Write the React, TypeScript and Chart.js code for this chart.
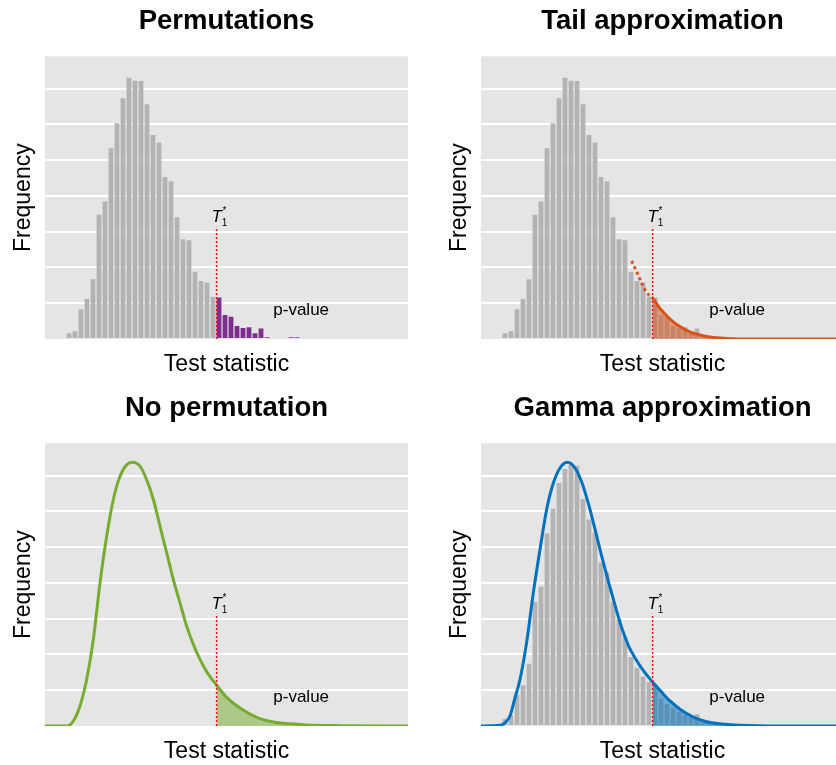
import React, { useEffect, useRef } from "react";
import { Chart, registerables } from "chart.js";

Chart.register(...registerables);

// ---------- data (arbitrary test-statistic units, frequency units) ----------
const binCenters = [
  1, 2, 3, 4, 5, 6, 7, 8, 9, 10, 11, 12, 13, 14, 15, 16, 17, 18, 19, 20,
  21, 22, 23, 24, 25, 26, 27, 28, 29, 30, 31, 32, 33, 34, 35, 36, 37, 38, 39, 40,
  41, 42, 43, 44, 45, 46, 47, 48, 49, 50,
];
// permutation histogram (top panels)
const permCounts = [
  0.03, 0.16, 0.22, 0.83, 1.12, 1.67, 3.47, 3.84, 5.33, 6.03,
  6.73, 7.3, 7.22, 7.21, 6.56, 5.7, 5.49, 4.53, 4.4, 3.4,
  2.79, 2.76, 1.88, 1.62, 1.58, 1.18, 1.16, 0.67, 0.62, 0.36,
  0.31, 0.33, 0.16, 0.29, 0.05, 0.03, 0.03, 0.03, 0.05, 0.05,
  0.03, 0.03, 0, 0, 0.03, 0.03, 0, 0, 0, 0.03,
];
// histogram under the gamma fit (bottom right)
const gammaHistCounts = [
  0.03, 0.2, 0.3, 0.87, 1.14, 1.74, 3.47, 3.9, 5.38, 6.07,
  6.79, 7.18, 7.3, 7.27, 6.34, 5.77, 5.41, 4.57, 4.28, 3.47,
  2.98, 2.49, 1.93, 1.63, 1.38, 1.23, 1.12, 0.76, 0.62, 0.5,
  0.4, 0.3, 0.25, 0.33, 0.1, 0.08, 0.06, 0.05, 0.04, 0.03,
  0.02, 0.02, 0, 0, 0, 0, 0, 0, 0, 0,
];

const threshold = 26.6; // T1*
const thresholdTop = 3.14;
const pLabelX = 36.05;
const pLabelY = 0.67;

// tail approximation (dotted part left of T1*, solid part right of it)
const tailDotX = [23.1, 23.95, 24.8, 25.6, 26.6];
const tailDotY = [2.18, 1.88, 1.55, 1.3, 1.15];
const tailX = [26.6, 27.8, 28.95, 30.05, 31.2, 32.8, 34.5, 36.7, 39.5, 45, 58.5];
const tailY = [1.15, 0.86, 0.65, 0.48, 0.34, 0.2, 0.11, 0.04, 0.01, 0, 0];

// no permutation: theoretical density
const densX = [
  -2, 1.61, 2.72, 3.83, 4.94, 6.06, 7.17, 8.28, 9.39, 10.5, 11.61, 12.61, 13.83,
  14.94, 16.06, 17.17, 18.28, 19.39, 20.5, 21.61, 22.72, 23.83, 24.94, 26.6,
  28.28, 30.5, 33.28, 36.06, 38.83, 41.61, 47.17, 58.5,
];
const densY = [
  0, 0, 0.14, 0.56, 1.3, 2.42, 4.0, 5.3, 6.33, 6.98, 7.3, 7.37, 7.26,
  6.88, 6.33, 5.58, 4.84, 4.09, 3.44, 2.79, 2.28, 1.86, 1.52, 1.14,
  0.8, 0.5, 0.24, 0.11, 0.06, 0.03, 0.01, 0,
];

// gamma approximation
const gammaX = [
  -2, 1.17, 2.0, 2.83, 3.67, 4.5, 5.6, 6.72, 7.83, 8.94, 10.06, 11.17, 12.39,
  13.67, 14.78, 15.89, 17.0, 18.11, 19.22, 20.33, 21.44, 22.56, 23.67, 25.06,
  26.6, 27.83, 29.5, 31.17, 33.39, 35.61, 37.83, 41.17, 47.83, 58.5,
];
const gammaY = [
  0, 0.02, 0.09, 0.28, 0.79, 1.3, 2.33, 3.72, 4.93, 6.05, 6.79, 7.21, 7.37,
  7.21, 6.82, 6.22, 5.5, 4.75, 4.05, 3.38, 2.75, 2.25, 1.9, 1.55,
  1.23, 1.0, 0.7, 0.47, 0.25, 0.12, 0.06, 0.02, 0, 0,
];

const titles = ["Permutations", "Tail approximation", "No permutation", "Gamma approximation"];

// ---------- styling ----------
const FONT = '"Liberation Sans", Arial, Helvetica, sans-serif';
const BG = "#e5e5e5";
const BAR_GRAY = "#b3b3b3";
const PURPLE = "#7e2f8e";
const ORANGE = "#d95319";
const GREEN = "#77ac30";
const BLUE = "#0072bd";
const RED = "#ff1010";
const NONE = "rgba(0,0,0,0)";

Chart.defaults.font.family = FONT;

const pts = (xs: number[], ys: number[]) => xs.map((x, i) => ({ x, y: ys[i] }));
const fromThreshold = (xs: number[], ys: number[]) =>
  pts(xs, ys).filter((p) => p.x >= threshold - 1e-6);

const bgPlugin = {
  id: "panelBg",
  beforeDraw(chart: any) {
    const { ctx, chartArea: a } = chart;
    ctx.save();
    ctx.fillStyle = BG;
    ctx.fillRect(a.left, a.top, a.right - a.left, a.bottom - a.top);
    ctx.restore();
  },
};

const labelPlugin = {
  id: "panelLabels",
  afterDatasetsDraw(chart: any) {
    const { ctx, scales } = chart;
    const x = scales.x;
    const y = scales.y;
    const px = x.getPixelForValue(threshold);
    const top = y.getPixelForValue(thresholdTop);
    ctx.save();
    ctx.fillStyle = "#000";
    ctx.textBaseline = "alphabetic";
    ctx.font = `italic 17px ${FONT}`;
    ctx.textAlign = "center";
    ctx.fillText("T", px, top - 4.4);
    ctx.textAlign = "left";
    ctx.font = `10px ${FONT}`;
    ctx.fillText("1", px + 5.2, top - 0.6);
    ctx.fillText("*", px + 6, top - 12.8);
    ctx.font = `17px ${FONT}`;
    ctx.fillText("p-value", x.getPixelForValue(pLabelX), y.getPixelForValue(pLabelY));
    ctx.restore();
  },
};

function thresholdDataset() {
  return {
    type: "line",
    data: [
      { x: threshold, y: 0 },
      { x: threshold, y: thresholdTop },
    ],
    borderColor: RED,
    borderWidth: 1.5,
    borderDash: [2, 2],
    pointRadius: 0,
    tension: 0,
    fill: false,
    order: 0,
  };
}

function barsDataset(values: number[], colors: string[] | string) {
  return {
    type: "bar",
    data: pts(binCenters, values),
    backgroundColor: colors,
    borderWidth: 0,
    barPercentage: 0.8,
    categoryPercentage: 1,
    order: 5,
  };
}

function curve(data: any[], color: string, extra: any = {}) {
  return {
    type: "line",
    data,
    borderColor: color,
    borderWidth: 3,
    pointRadius: 0,
    cubicInterpolationMode: "monotone",
    fill: false,
    order: 1,
    ...extra,
  };
}

function fillArea(data: any[], fillColor: string) {
  return {
    type: "line",
    data,
    borderColor: NONE,
    borderWidth: 0,
    pointRadius: 0,
    cubicInterpolationMode: "monotone",
    fill: "origin",
    backgroundColor: fillColor,
    order: 2,
  };
}

function buildDatasets(panel: number): any[] {
  if (panel === 0) {
    const colors = binCenters.map((c) => (c > threshold ? PURPLE : BAR_GRAY));
    return [barsDataset(permCounts, colors), thresholdDataset()];
  }
  if (panel === 1) {
    return [
      barsDataset(permCounts, BAR_GRAY),
      fillArea(pts(tailX, tailY), "rgba(217,83,25,0.5)"),
      curve(pts(tailX, tailY), ORANGE),
      curve(pts(tailDotX, tailDotY), ORANGE, { borderDash: [3, 3] }),
      thresholdDataset(),
    ];
  }
  if (panel === 2) {
    return [
      fillArea(fromThreshold(densX, densY), "rgba(119,172,48,0.5)"),
      curve(pts(densX, densY), GREEN),
      thresholdDataset(),
    ];
  }
  return [
    barsDataset(gammaHistCounts, BAR_GRAY),
    fillArea(fromThreshold(gammaX, gammaY), "rgba(0,114,189,0.5)"),
    curve(pts(gammaX, gammaY), BLUE),
    thresholdDataset(),
  ];
}

function buildOptions(panel: number): any {
  return {
    animation: false,
    responsive: false,
    events: [],
    layout: { padding: { left: 0, right: 10, top: 0, bottom: 0 } },
    plugins: {
      legend: { display: false },
      tooltip: { enabled: false },
      title: {
        display: true,
        text: titles[panel],
        fullSize: false,
        color: "#000",
        font: { size: 27.5, weight: "bold", family: FONT },
        padding: { top: 4.8, bottom: 18.5 },
      },
    },
    scales: {
      x: {
        type: "linear",
        min: -2,
        max: 58.5,
        offset: false,
        grid: { display: false, drawTicks: false },
        border: { display: false },
        ticks: { display: false },
        title: {
          display: true,
          text: "Test statistic",
          color: "#000",
          font: { size: 23, family: FONT },
          padding: { top: 0, bottom: 6.5 },
        },
        afterFit: (s: any) => {
          s.height = 46;
        },
      },
      y: {
        type: "linear",
        min: 0,
        max: 7.9,
        grid: {
          color: (c: any) => (c.tick && c.tick.value === 0 ? NONE : "#ffffff"),
          lineWidth: 2,
          drawTicks: false,
        },
        border: { display: false },
        ticks: { display: false, stepSize: 1, includeBounds: false },
        title: {
          display: true,
          text: "Frequency",
          color: "#000",
          font: { size: 23, family: FONT },
          padding: { top: 10, bottom: 0 },
        },
        afterFit: (s: any) => {
          s.width = 45;
        },
      },
    },
  };
}

function Panel({ panel, left, top }: { panel: number; left: number; top: number }) {
  const ref = useRef<HTMLCanvasElement | null>(null);
  useEffect(() => {
    if (!ref.current) return;
    const chart = new Chart(ref.current, {
      type: "bar",
      data: { datasets: buildDatasets(panel) } as any,
      options: buildOptions(panel),
      plugins: [bgPlugin, labelPlugin],
    } as any);
    return () => chart.destroy();
  }, [panel]);
  return (
    <canvas
      ref={ref}
      width={418}
      height={385}
      style={{ position: "absolute", left, top, width: 418, height: 385 }}
    />
  );
}

export default function App() {
  return (
    <div
      style={{
        position: "fixed",
        left: 0,
        top: 0,
        width: 836,
        height: 765,
        overflow: "hidden",
        background: "#fff",
      }}
    >
      <Panel panel={0} left={0} top={0} />
      <Panel panel={1} left={436} top={0} />
      <Panel panel={2} left={0} top={387} />
      <Panel panel={3} left={436} top={387} />
    </div>
  );
}
